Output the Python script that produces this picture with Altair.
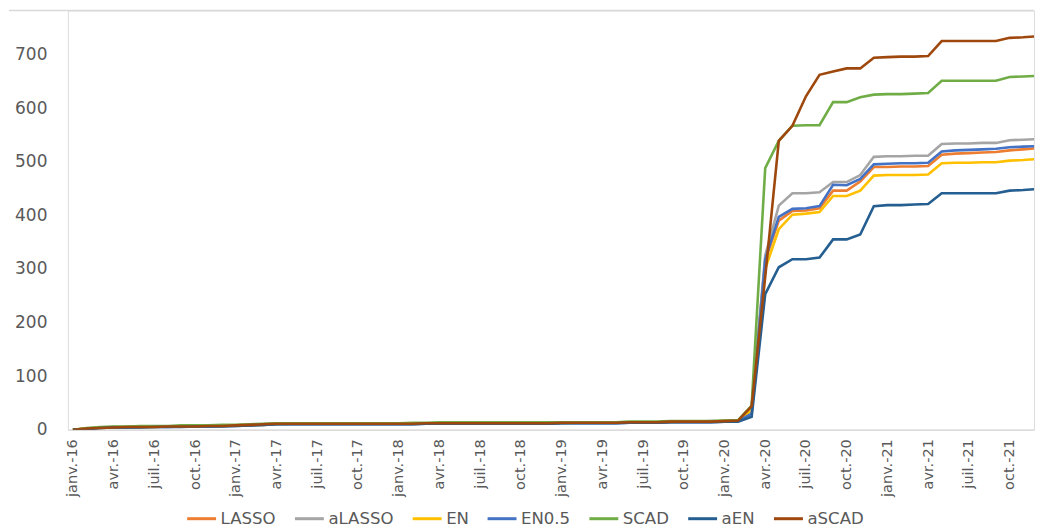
import json
import altair as alt
import pandas as pd

month_names = ["janv.", "févr.", "mars", "avr.", "mai", "juin",
               "juil.", "août", "sept.", "oct.", "nov.", "déc."]
years = ["16", "17", "18", "19", "20", "21"]
month_labels = [f"{m}-{y}" for y in years for m in month_names]

series_names = ["LASSO", "aLASSO", "EN", "EN0.5", "SCAD", "aEN", "aSCAD"]
series_colors = ["#ED7D31", "#A5A5A5", "#FFC000", "#4472C4", "#70AD47", "#255E91", "#9E480E"]

lasso = [0,2,4,5,5,5,6,6,6,7, 7,7,8,9,10,11,11,11,11,11, 11,11,11,11,11,11,12,12,12,12,
         12,12,12,12,12,12,13,13,13,13, 13,14,14,14,15,15,15,15,16,17,
         42,315,390,408,409,413,446,446,463,490, 490,491,491,492,513,515,516,517,518,521, 523,525]
alasso = [0,2,4,5,5,6,6,6,7,7, 7,8,8,9,10,11,11,11,11,11, 11,11,11,12,12,12,12,12,12,12,
          12,12,12,12,12,13,13,13,13,13, 14,14,14,14,15,15,15,16,16,17,
          43,325,418,441,441,443,462,462,475,509, 510,510,511,511,533,534,534,535,535,540, 541,542]
en = [0,2,3,4,5,5,5,6,6,6, 7,7,8,8,9,10,11,11,11,11, 11,11,11,11,11,11,11,12,12,12,
      12,12,12,12,12,12,12,13,13,13, 13,13,14,14,14,15,15,15,16,16,
      36,300,374,401,403,406,436,436,446,474, 475,475,475,476,497,498,498,499,499,502, 503,505]
en05 = [0,1,3,4,4,5,5,5,6,6, 6,7,7,8,9,10,10,10,10,10, 10,10,10,10,10,10,11,11,11,11,
        11,11,11,11,11,11,12,12,12,12, 12,13,13,13,14,14,14,14,15,16,
        30,318,397,412,413,417,457,456,468,495, 496,497,497,498,519,521,522,523,524,527, 528,529]
scad = [0,3,5,6,6,7,7,7,8,8, 8,9,9,10,11,12,12,12,12,12, 12,12,12,12,12,13,13,14,14,14,
        14,14,14,14,14,14,14,14,14,14, 14,15,15,15,16,16,16,16,17,18,
        45,488,539,567,568,568,611,611,620,625, 626,626,627,628,651,651,651,651,651,658, 659,660]
aen = [0,1,3,4,4,4,5,5,5,6, 6,6,7,8,9,10,10,10,10,10, 10,10,10,10,10,10,11,11,11,11,
       11,11,11,11,11,11,12,12,12,12, 12,13,13,13,14,14,14,14,15,15,
       24,253,303,318,318,321,355,355,364,417, 419,419,420,421,441,441,441,441,441,446, 447,449]
ascad = [0,2,3,4,5,5,5,6,6,6, 7,7,8,9,10,11,11,11,11,11, 11,11,11,11,11,11,12,12,12,12,
         12,12,12,12,12,12,13,13,13,13, 13,14,14,14,15,15,15,15,16,17,
         44,285,539,567,622,662,668,674,674,694, 695,696,696,697,725,725,725,725,725,731, 732,734]

y_ticks = [0, 100, 200, 300, 400, 500, 600, 700]
y_top = 782

all_series = [lasso, alasso, en, en05, scad, aen, ascad]
rows = []
for name, vals in zip(series_names, all_series):
    for i, v in enumerate(vals):
        rows.append({"idx": i, "mois": month_labels[i], "serie": name, "valeur": v})
df = pd.DataFrame(rows)

W = 968
H = 420

label_expr = json.dumps(month_labels) + "[datum.value]"
tick_idx = list(range(0, len(month_labels) - 2, 3))

y_axis = alt.Axis(values=y_ticks, title=None, grid=False, ticks=False,
                  domain=False, labelPadding=21, labelFontSize=17,
                  labelColor="#595959", labelFont="DejaVu Sans")

lines = alt.Chart(df).mark_line(strokeWidth=2.6, clip=True).encode(
    x=alt.X("idx:Q",
            scale=alt.Scale(domain=[-0.37, 70.8], nice=False, zero=False),
            axis=alt.Axis(values=tick_idx, labelExpr=label_expr, labelAngle=-90,
                          title=None, grid=False, ticks=False, labelPadding=9,
                          labelFontSize=14.5, labelColor="#595959", labelFont="DejaVu Sans",
                          domainColor="#D9D9D9", domainWidth=1.3, labelOverlap=False)),
    y=alt.Y("valeur:Q", scale=alt.Scale(domain=[0, y_top], nice=False), axis=y_axis),
    color=alt.Color("serie:N",
                    scale=alt.Scale(domain=series_names, range=series_colors),
                    sort=series_names,
                    legend=alt.Legend(title=None, orient="none", direction="horizontal",
                                      legendX=118, legendY=493,
                                      symbolType="stroke", symbolSize=840,
                                      symbolStrokeWidth=3, labelFontSize=16.6,
                                      labelFont="DejaVu Sans", labelColor="#595959",
                                      columnPadding=12, labelOffset=3)),
    order=alt.Order("idx:Q"),
)

top_line = alt.Chart(pd.DataFrame({"y": [y_top]})).mark_rule(
    color="#D9D9D9", strokeWidth=1.3
).encode(
    y=alt.Y("y:Q", scale=alt.Scale(domain=[0, y_top], nice=False), axis=y_axis),
    x=alt.value(-59),
    x2=alt.value(W),
)

chart = alt.layer(top_line, lines).properties(
    width=W, height=H,
    padding={"left": 0, "right": 0, "top": 1, "bottom": 0},
).configure_view(stroke=None).configure(background="white")

chart.save("out.html", embed_options={"renderer": "svg", "actions": False})
